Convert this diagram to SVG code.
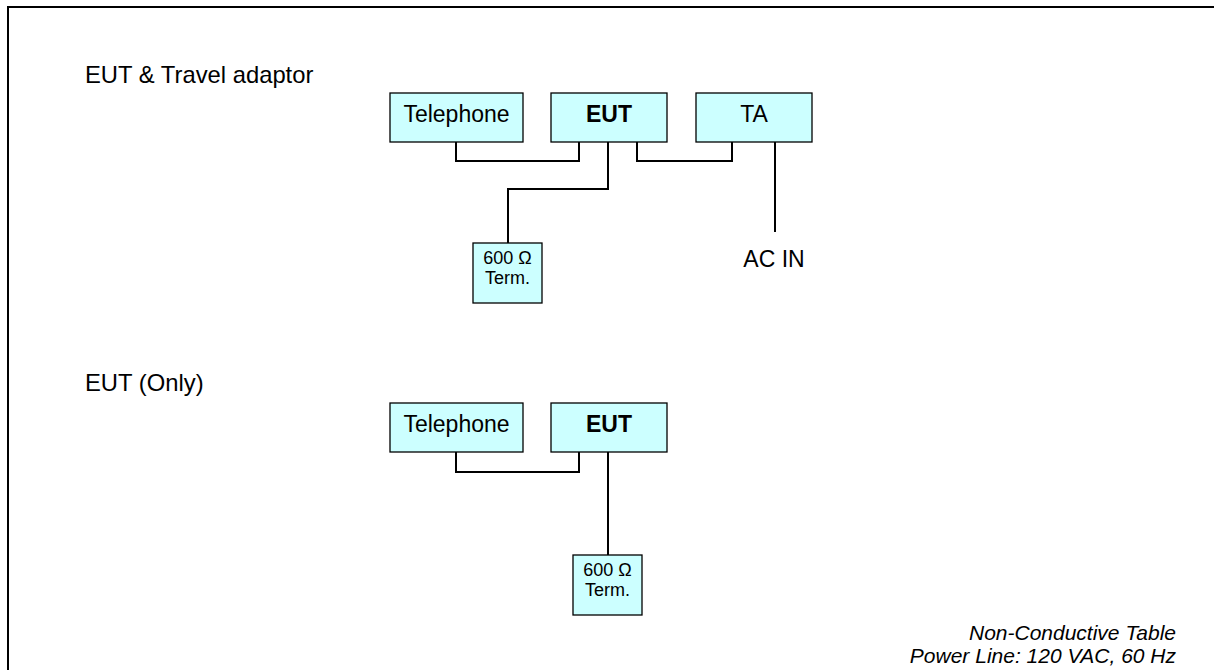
<svg xmlns="http://www.w3.org/2000/svg" width="1214" height="670" viewBox="0 0 1214 670">
<style>
.box{fill:#ccffff;stroke:#000;stroke-width:1.3}
.wire{fill:none;stroke:#000;stroke-width:2}
.t{font-family:"Liberation Sans",Arial,sans-serif;fill:#000}
.lg{font-size:23px}
.lb{font-size:23.8px}
.sm{font-size:18px}
.b{font-weight:bold}
.it{font-style:italic;font-size:21px}
</style>
<rect width="1214" height="670" fill="#fff"/>
<path d="M8,672 V7 H1216" fill="none" stroke="#000" stroke-width="2"/>
<text class="t lb" x="85" y="83">EUT &amp; Travel adaptor</text>
<text class="t lb" x="85" y="391">EUT (Only)</text>
<g id="connectors">
<path class="wire" d="M456,142 V161 H579 V142"/>
<path class="wire" d="M637,142 V161 H732 V142"/>
<path class="wire" d="M608,142 V189 H508 V243"/>
<path class="wire" d="M775,142 V232"/>
<path class="wire" d="M456,452 V472 H579 V452"/>
<path class="wire" d="M608,452 V555"/>
</g>
<g id="tel1"><rect class="box" x="390" y="93" width="133" height="49"/><text class="t lg" x="456.5" y="122" text-anchor="middle">Telephone</text></g>
<g id="eut1"><rect class="box" x="551" y="93" width="116" height="49"/><text class="t lg b" x="609" y="122" text-anchor="middle">EUT</text></g>
<g id="ta1"><rect class="box" x="696" y="93" width="116" height="49"/><text class="t lg" x="754" y="122" text-anchor="middle">TA</text></g>
<g id="term1"><rect class="box" x="473" y="243" width="69" height="60"/><text class="t sm" x="507.5" y="264" text-anchor="middle">600 Ω</text><text class="t sm" x="507.5" y="284" text-anchor="middle">Term.</text></g>
<g id="acin"><text class="t lg" x="774" y="267" text-anchor="middle">AC IN</text></g>
<g id="tel2"><rect class="box" x="390" y="403" width="133" height="49"/><text class="t lg" x="456.5" y="432" text-anchor="middle">Telephone</text></g>
<g id="eut2"><rect class="box" x="551" y="403" width="116" height="49"/><text class="t lg b" x="609" y="432" text-anchor="middle">EUT</text></g>
<g id="term2"><rect class="box" x="573" y="555" width="69" height="60"/><text class="t sm" x="607.5" y="576" text-anchor="middle">600 Ω</text><text class="t sm" x="607.5" y="596" text-anchor="middle">Term.</text></g>
<g id="footer">
<text class="t it" x="1176" y="640" text-anchor="end">Non-Conductive Table</text>
<text class="t it" x="1176" y="663" text-anchor="end">Power Line: 120 VAC, 60 Hz</text>
</g>
</svg>
